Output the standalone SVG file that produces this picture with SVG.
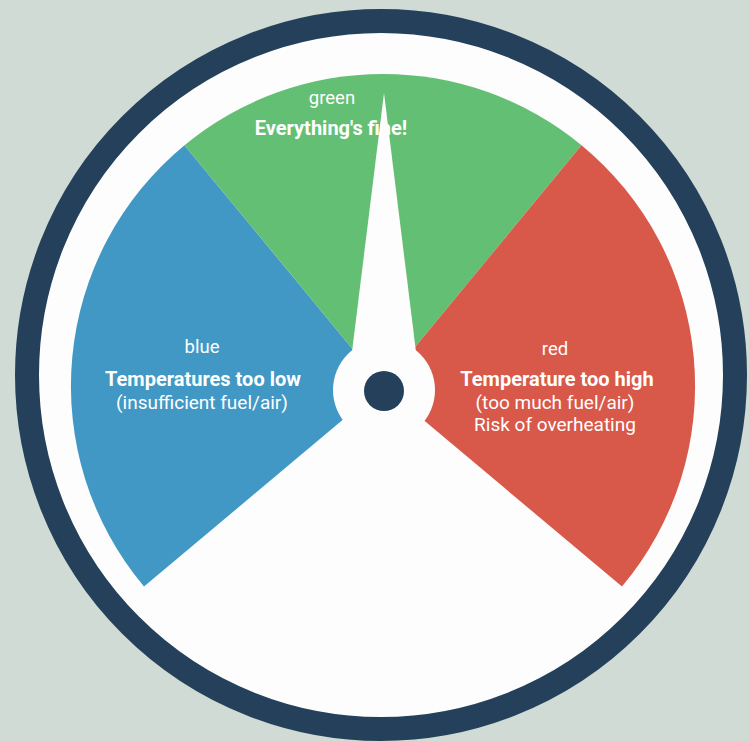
<svg xmlns="http://www.w3.org/2000/svg" width="749" height="741" viewBox="0 0 749 741">
<style>
.lbl{font-family:Roboto,"Liberation Sans",sans-serif;fill:#ffffff;text-anchor:middle}
.small{font-size:18.5px;font-weight:400}
.title{font-size:20px;font-weight:700}
.sub{font-size:19px;font-weight:400}
</style>
<rect width="749" height="741" fill="#cfdbd4"/>
<g id="dial">
<circle cx="381" cy="375" r="354" fill="#fdfdfd" stroke="#24405a" stroke-width="24"/>
</g>
<g id="blue">
<path d="M383,386 L144,586.6 A312,312 0 0 1 184.5,145.2 Z" fill="#4298c4"/>
<text class="lbl small" x="202" y="353">blue</text>
<text class="lbl title" x="203" y="386">Temperatures too low</text>
<text class="lbl sub" x="202" y="409">(insufficient fuel/air)</text>
</g>
<g id="green">
<path d="M383,386 L184.5,145.2 A312,312 0 0 1 581.5,145.2 Z" fill="#63bf73"/>
<text class="lbl small" x="332" y="104">green</text>
<text class="lbl title" x="331" y="135">Everything's fine!</text>
</g>
<g id="red">
<path d="M383,386 L581.5,145.2 A312,312 0 0 1 622,586.6 Z" fill="#d8584a"/>
<text class="lbl small" x="555" y="355">red</text>
<text class="lbl title" x="557" y="386">Temperature too high</text>
<text class="lbl sub" x="555" y="409">(too much fuel/air)</text>
<text class="lbl sub" x="555" y="431">Risk of overheating</text>
</g>
<g id="needle">
<polygon points="384,93 351,360 417,360" fill="#fdfdfd"/>
<circle cx="384" cy="390" r="51" fill="#fdfdfd"/>
<circle cx="384" cy="391" r="20" fill="#24405a"/>
</g>
</svg>
